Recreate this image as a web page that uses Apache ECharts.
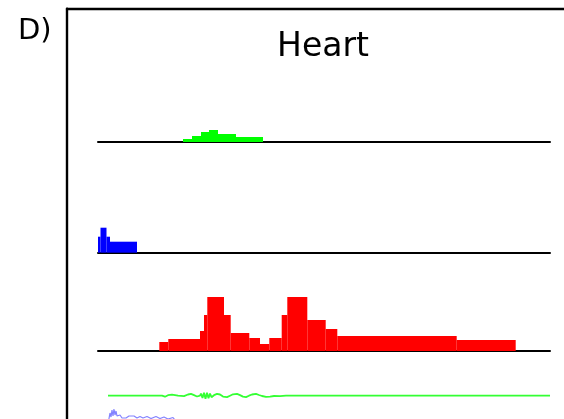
<!DOCTYPE html>
<html>
<head>
<meta charset="utf-8">
<script src="https://cdn.jsdelivr.net/npm/echarts@6/dist/echarts.min.js"></script>
<style>
html,body{margin:0;padding:0;background:#fff;}
#c{width:564px;height:419px;}
</style>
</head>
<body>
<div id="c"></div>
<script>
// Track data: [start, end, height] along the shared position axis
const greenBars = [[85,94,3],[94,103,6],[103,111,10],[111,120,12],[120,138,8],[138,165,5]];
const blueBars = [[0,2.5,16],[2.5,8.5,25],[8.5,12,16],[12,39,11]];
const redBars = [
  [61.3,70.3,9],[70.3,102,12],[102,106,20],[106,109.3,36],[109.3,126,54],[126,132.7,36],
  [132.7,151.3,18],[151.3,162,13],[162,171.3,7],[171.3,183.7,13],[183.7,189.3,36],
  [189.3,209.3,54],[209.3,227.7,31],[227.7,239.3,22],[239.3,358.7,15],[358.7,417.7,11]
];
// Wiggle signals: [position, deviation]
const greenSignal = [
  [10,0],[64,0],[67,-1],[70,0.5],[74,1],[80,0],[86,-0.5],[90,1.2],[93,1.8],[96,0.5],
  [99,-0.8],[102,0],[103,2.2],[104.5,-2.2],[106,3],[107.5,-3.2],[109,3],[110.5,-2.6],
  [112,2.2],[113.5,-1.5],[116,0.5],[119,1.8],[122,1.2],[125,-0.9],[129,-1.4],[132,0],
  [135,1.4],[139,1.8],[142,0.6],[145,-0.9],[148,-1.4],[151,0],[154,1.2],[158,1.8],
  [161,0.7],[164,-0.3],[168,-1.2],[172,-0.9],[176,-0.3],[182,-0.4],[188,0],[452,0]
];
const blueSignal = [
  [10,0],[12,11],[13,7],[14,14],[15,8],[16,15],[17,9],[18,13],[19,8],[20,10],[21,7],[22,9],
  [24,6],[26,8],[28,6],[31,8],[33,6],[36,8],[39,6],[42,7.5],[45,6],[49,7.5],[53,5.5],
  [58,7.5],[62,5.5],[66,7],[70,5],[75,6.5],[80,0],[452,0]
];
const title = 'Heart';
const panelLabel = 'D)';

function barRender(params, api) {
  const p0 = api.coord([api.value(0), 0]);
  const p1 = api.coord([api.value(1), api.value(2)]);
  return {
    type: 'rect',
    shape: {x: p0[0], y: p1[1], width: p1[0] - p0[0], height: p0[1] - p1[1]},
    style: {fill: api.visual('color')}
  };
}

const chart = echarts.init(document.getElementById('c'), null, {renderer: 'canvas'});

const grids = [
  {left: 98, right: 14, top: 80, height: 62},
  {left: 98, right: 14, top: 182, height: 70.7},
  {left: 98, right: 14, top: 280, height: 71},
  {left: 98, right: 14, top: 385.7, height: 20},
  {left: 98, right: 14, top: 404, height: 20},
  {left: 67, right: -100, top: 8.7, bottom: -100}
].map(g => Object.assign({outerBoundsMode: 'none', containLabel: false}, g));
const maxes = [62, 70.7, 71, 10, 20];
const mins = [0, 0, 0, -10, 0];

const xAxes = [];
const yAxes = [];
for (let i = 0; i < 5; i++) {
  xAxes.push({
    gridIndex: i, type: 'value', min: 0, max: 452,
    axisLine: {show: i < 3, onZero: false, lineStyle: {color: '#000', width: 2}},
    axisTick: {show: false}, axisLabel: {show: false}, splitLine: {show: false}
  });
  yAxes.push({
    gridIndex: i, type: 'value', min: mins[i], max: maxes[i], show: false,
    splitLine: {show: false}
  });
}
xAxes.push({
  gridIndex: 5, type: 'value', min: 0, max: 1, position: 'top',
  axisLine: {show: true, onZero: false, lineStyle: {color: '#000', width: 2.4}},
  axisTick: {show: false}, axisLabel: {show: false}, splitLine: {show: false}
});
yAxes.push({
  gridIndex: 5, type: 'value', min: 0, max: 1,
  axisLine: {show: true, onZero: false, lineStyle: {color: '#000', width: 2.4}},
  axisTick: {show: false}, axisLabel: {show: false}, splitLine: {show: false}
});

chart.setOption({
  animation: false,
  backgroundColor: '#fff',
  title: [
    {text: title, left: 318, textAlign: 'center', top: 26,
     textStyle: {fontFamily: 'DejaVu Sans', fontSize: 33, fontWeight: 'normal', color: '#000'}},
    {text: panelLabel, left: 13, top: 12,
     textStyle: {fontFamily: 'DejaVu Sans', fontSize: 29, fontWeight: 'normal', color: '#000'}}
  ],
  grid: grids,
  xAxis: xAxes,
  yAxis: yAxes,
  series: [
    {type: 'custom', xAxisIndex: 0, yAxisIndex: 0, renderItem: barRender, data: greenBars,
     encode: {x: [0, 1], y: 2}, itemStyle: {color: '#00ff00'}, z: 1},
    {type: 'custom', xAxisIndex: 1, yAxisIndex: 1, renderItem: barRender, data: blueBars,
     encode: {x: [0, 1], y: 2}, itemStyle: {color: '#0000ff'}, z: 1},
    {type: 'custom', xAxisIndex: 2, yAxisIndex: 2, renderItem: barRender, data: redBars,
     encode: {x: [0, 1], y: 2}, itemStyle: {color: '#ff0000'}, z: 1},
    {type: 'line', xAxisIndex: 3, yAxisIndex: 3, data: greenSignal, symbol: 'none',
     lineStyle: {color: '#33ff33', width: 1.8}},
    {type: 'line', xAxisIndex: 4, yAxisIndex: 4, data: blueSignal, symbol: 'none',
     lineStyle: {color: '#4d4dff', width: 1.2, opacity: 0.7}}
  ]
});
</script>
</body>
</html>
